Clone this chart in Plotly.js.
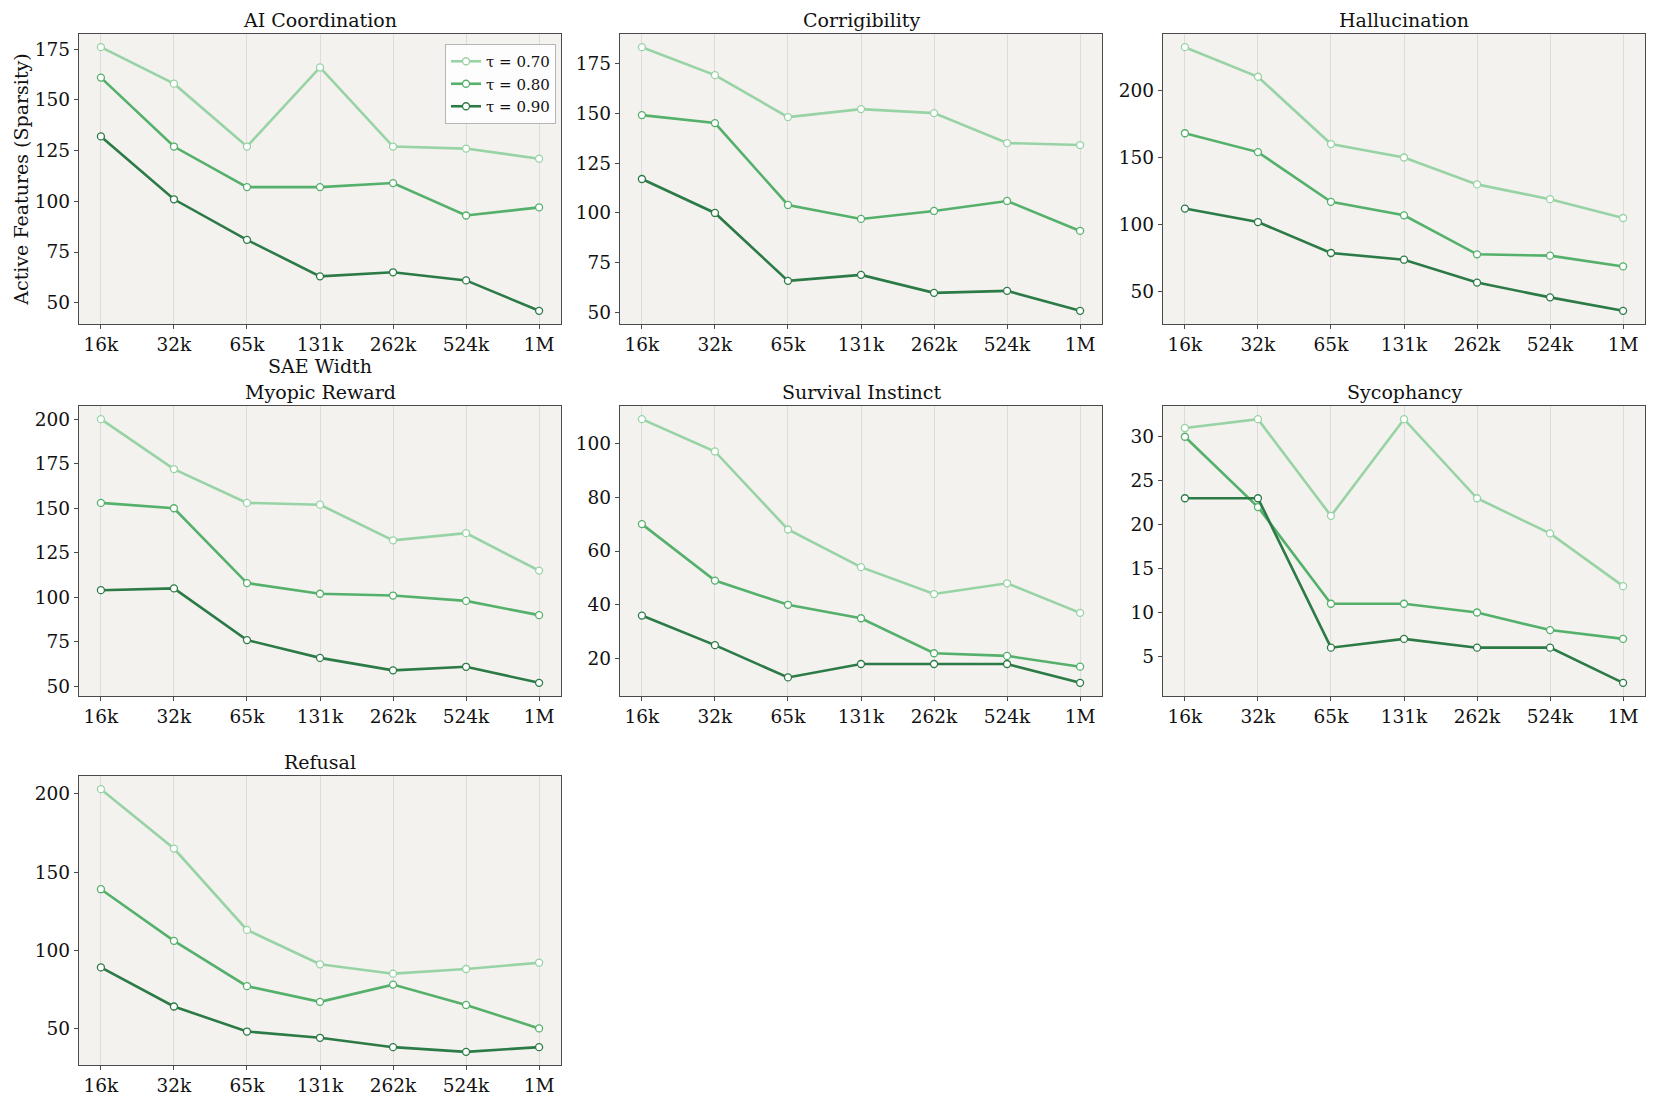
<!DOCTYPE html>
<html>
<head>
<meta charset="utf-8">
<script src="https://cdn.plot.ly/plotly-3.0.1.min.js"></script>
<style>html,body{margin:0;padding:0;background:#fff;}#chart{width:1661px;height:1107px;}</style>
</head>
<body>
<div id="chart"></div>
<script>
// ---- data ----
const saeWidths = ["16k", "32k", "65k", "131k", "262k", "524k", "1M"];
const panelTitles = ["AI Coordination", "Corrigibility", "Hallucination", "Myopic Reward", "Survival Instinct", "Sycophancy", "Refusal"];
const seriesNames = ["τ = 0.70", "τ = 0.80", "τ = 0.90"];

const aiCoordination_t70 = [176, 158, 127, 166, 127, 126, 121];
const aiCoordination_t80 = [161, 127, 107, 107, 109, 93, 97];
const aiCoordination_t90 = [132, 101, 81, 63, 65, 61, 46];

const corrigibility_t70 = [183, 169, 148, 152, 150, 135, 134];
const corrigibility_t80 = [149, 145, 104, 97, 101, 106, 91];
const corrigibility_t90 = [117, 100, 66, 69, 60, 61, 51];

const hallucination_t70 = [232, 210, 160, 150, 130, 119, 105];
const hallucination_t80 = [168, 154, 117, 107, 78, 77, 69];
const hallucination_t90 = [112, 102, 79, 74, 57, 46, 36];

const myopicReward_t70 = [200, 172, 153, 152, 132, 136, 115];
const myopicReward_t80 = [153, 150, 108, 102, 101, 98, 90];
const myopicReward_t90 = [104, 105, 76, 66, 59, 61, 52];

const survivalInstinct_t70 = [109, 97, 68, 54, 44, 48, 37];
const survivalInstinct_t80 = [70, 49, 40, 35, 22, 21, 17];
const survivalInstinct_t90 = [36, 25, 13, 18, 18, 18, 11];

const sycophancy_t70 = [31, 32, 21, 32, 23, 19, 13];
const sycophancy_t80 = [30, 22, 11, 11, 10, 8, 7];
const sycophancy_t90 = [23, 23, 6, 7, 6, 6, 2];

const refusal_t70 = [203, 165, 113, 91, 85, 88, 92];
const refusal_t80 = [139, 106, 77, 67, 78, 65, 50];
const refusal_t90 = [89, 64, 48, 44, 38, 35, 38];

const panelSeries = [
  [aiCoordination_t70, aiCoordination_t80, aiCoordination_t90],
  [corrigibility_t70, corrigibility_t80, corrigibility_t90],
  [hallucination_t70, hallucination_t80, hallucination_t90],
  [myopicReward_t70, myopicReward_t80, myopicReward_t90],
  [survivalInstinct_t70, survivalInstinct_t80, survivalInstinct_t90],
  [sycophancy_t70, sycophancy_t80, sycophancy_t90],
  [refusal_t70, refusal_t80, refusal_t90]
];

// ---- style / layout ----
const seriesColors = ["#98d3a5", "#55b06b", "#2c7a46"];
const yDticks = [25, 25, 50, 25, 20, 5, 50];
const W = 1661, H = 1107;
const colPx = [[79, 561], [620, 1102], [1163, 1645]];
const rowPx = [[34, 324], [406, 696], [776, 1065]];
const FONT = "DejaVu Serif";
const TICK = 18.5, TITLE = 19;

const traces = [];
const layout = {
  width: W, height: H,
  margin: {l: 0, r: 0, t: 0, b: 0},
  paper_bgcolor: "#ffffff",
  font: {family: FONT, color: "#111", size: 16},
  showlegend: true,
  legend: {
    x: 556 / W, xanchor: "right", y: 1 - 44 / H, yanchor: "top",
    bgcolor: "rgba(255,255,255,0.85)", bordercolor: "#b5b5b5", borderwidth: 1,
    font: {family: FONT, size: 15, color: "#111"},
    tracegroupgap: 0
  },
  annotations: []
};

panelTitles.forEach((title, i) => {
  const r = Math.floor(i / 3), c = i % 3;
  const n = i + 1;
  const xa = "xaxis" + (n === 1 ? "" : n), ya = "yaxis" + (n === 1 ? "" : n);
  const xr = "x" + (n === 1 ? "" : n), yr = "y" + (n === 1 ? "" : n);
  const all = [].concat(...panelSeries[i]);
  const mn = Math.min(...all), mx = Math.max(...all), pad = (mx - mn) * 0.05;
  const xd = [colPx[c][0] / W, colPx[c][1] / W];
  const yd = [1 - rowPx[r][1] / H, 1 - rowPx[r][0] / H];
  layout[xa] = {
    domain: xd, anchor: yr, type: "category", range: [-0.3, 6.3],
    showgrid: true, gridcolor: "#dcdcdc", gridwidth: 1,
    showline: true, linecolor: "#4a4a4a", linewidth: 1.2, mirror: true,
    ticks: "outside", ticklen: 4, tickcolor: "#4a4a4a",
    tickfont: {family: FONT, size: TICK, color: "#111"}, zeroline: false
  };
  layout[ya] = {
    domain: yd, anchor: xr, range: [mn - pad, mx + pad], dtick: yDticks[i],
    showgrid: false, showline: true, linecolor: "#4a4a4a", linewidth: 1.2, mirror: true,
    ticks: "outside", ticklen: 4, tickcolor: "#4a4a4a",
    tickfont: {family: FONT, size: TICK, color: "#111"}, zeroline: false
  };
  if (i === 0) {
    layout[xa].title = {text: "SAE Width", font: {family: FONT, size: TITLE, color: "#111"}, standoff: 0};
    layout[ya].title = {text: "Active Features (Sparsity)", font: {family: FONT, size: TITLE, color: "#111"}, standoff: 1};
  }
  layout.annotations.push({
    text: title, xref: "paper", yref: "paper",
    x: (xd[0] + xd[1]) / 2, y: yd[1], xanchor: "center", yanchor: "bottom", yshift: 1,
    showarrow: false, font: {family: FONT, size: TITLE, color: "#111"}
  });
  panelSeries[i].forEach((vals, s) => {
    traces.push({
      type: "scatter", mode: "lines+markers",
      x: saeWidths, y: vals, xaxis: xr, yaxis: yr,
      name: seriesNames[s], legendgroup: seriesNames[s], showlegend: i === 0,
      line: {color: seriesColors[s], width: 2.6},
      marker: {symbol: "circle", size: 7, color: "#ffffff", line: {color: seriesColors[s], width: 1.3}}
    });
  });
});

// plot backgrounds
layout.shapes = panelTitles.map((t, i) => {
  const r = Math.floor(i / 3), c = i % 3;
  return {type: "rect", xref: "paper", yref: "paper", layer: "below",
    x0: colPx[c][0] / W, x1: colPx[c][1] / W, y0: 1 - rowPx[r][1] / H, y1: 1 - rowPx[r][0] / H,
    fillcolor: "#f3f2ee", line: {width: 0}};
});
layout.plot_bgcolor = "rgba(0,0,0,0)";

Plotly.newPlot("chart", traces, layout, {staticPlot: true, displayModeBar: false});
</script>
</body>
</html>
